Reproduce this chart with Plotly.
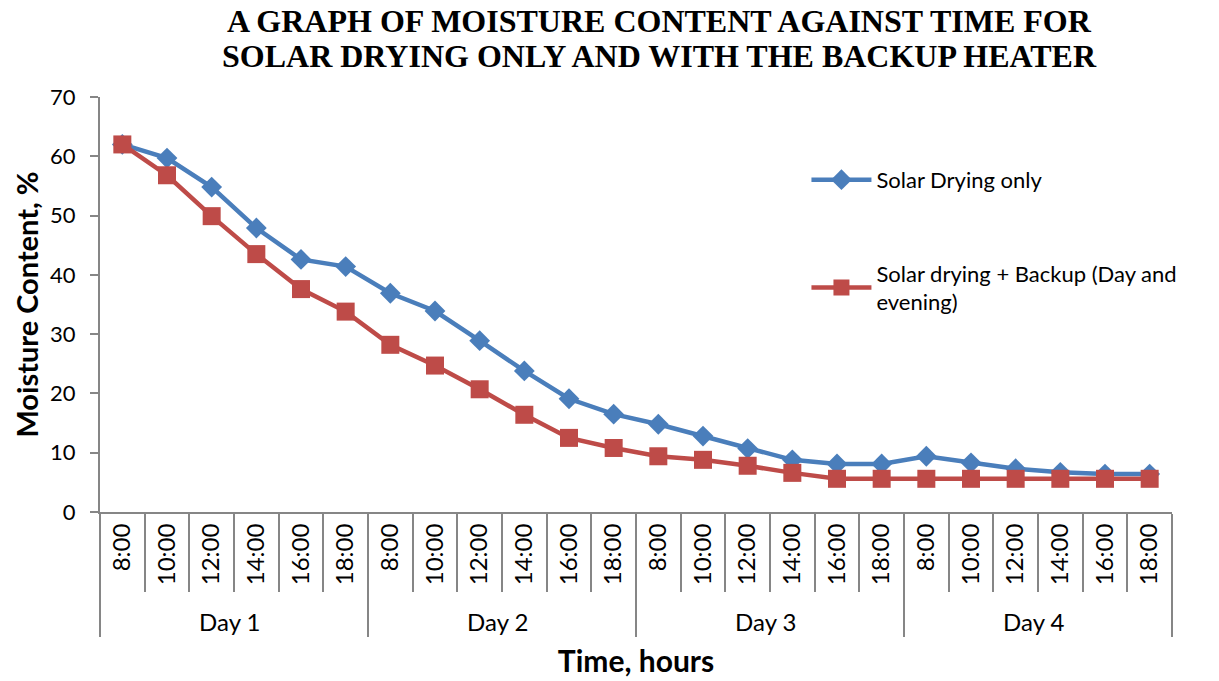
import plotly.graph_objects as go

days = ["Day 1"] * 6 + ["Day 2"] * 6 + ["Day 3"] * 6 + ["Day 4"] * 6
times = ["8:00", "10:00", "12:00", "14:00", "16:00", "18:00"] * 4

solar_only = [62, 59.7, 54.8, 47.9, 42.6, 41.4, 36.9, 33.9, 28.9, 23.8, 19.1, 16.5,
              14.8, 12.8, 10.7, 8.8, 8.1, 8.1, 9.4, 8.3, 7.3, 6.7, 6.4, 6.4]
solar_backup = [62, 56.8, 49.9, 43.5, 37.6, 33.8, 28.2, 24.7, 20.7, 16.4, 12.5, 10.8,
                9.4, 8.8, 7.8, 6.6, 5.6, 5.6, 5.6, 5.6, 5.6, 5.6, 5.6, 5.6]

title_lines = ["A GRAPH OF MOISTURE CONTENT AGAINST TIME FOR",
               "SOLAR DRYING ONLY AND WITH THE BACKUP HEATER"]

font_main = "Lato, Calibri, Carlito, sans-serif"
serif = "Liberation Serif, Times New Roman, serif"

fig = go.Figure()
fig.add_trace(go.Scatter(
    x=[days, times], y=solar_only, mode="lines+markers",
    name="Solar Drying only", legendgroup="a",
    line=dict(color="#4A7EBB", width=4.5),
    marker=dict(symbol="diamond", size=16, color="#4A7EBB"),
))
fig.add_trace(go.Scatter(
    x=[days, times], y=solar_backup, mode="lines+markers",
    name="Solar drying + Backup (Day and<br>evening)", legendgroup="b",
    line=dict(color="#BE4B48", width=4.5),
    marker=dict(symbol="square", size=18, color="#BE4B48"),
))

# plot area: x 100..1172, y 97..512
plot_top = 97
plot_h = 415
for i, t in enumerate(title_lines):
    ypix = 21 + 35 * i
    fig.add_annotation(
        text="<b>" + t + "</b>", xref="paper", yref="paper",
        x=0.522, xanchor="center", y=1 + (plot_top - ypix) / plot_h,
        yanchor="middle", showarrow=False,
        font=dict(family=serif, size=32, color="black"),
    )

fig.update_layout(
    width=1219, height=681,
    paper_bgcolor="white", plot_bgcolor="white",
    margin=dict(l=100, r=47, t=97, b=169, autoexpand=False),
    font=dict(family=font_main, size=22, color="black"),
    legend=dict(
        x=0.659, xanchor="left", y=0.851, yanchor="top",
        font=dict(size=22), tracegroupgap=62, bgcolor="rgba(0,0,0,0)",
        itemwidth=60,
    ),
    showlegend=True,
)

fig.update_yaxes(
    range=[0, 70], dtick=10, showgrid=False, zeroline=False,
    showline=True, linecolor="#868686", linewidth=2,
    ticks="outside", ticklen=8, tickcolor="#868686", tickwidth=2,
    tickfont=dict(size=22), ticklabelstandoff=10,
    title=dict(text="<b>Moisture Content, %</b>", font=dict(size=29), standoff=3),
    automargin=False,
)
fig.update_xaxes(
    type="multicategory", showgrid=False, range=[-0.5, 23.5],
    showline=True, linecolor="#868686", linewidth=2,
    ticks="outside", tickcolor="#868686", ticklen=78, tickwidth=2,
    tickangle=-90, showdividers=True, dividercolor="#868686", dividerwidth=2,
    tickfont=dict(size=24),
    title=dict(text="<b>Time, hours</b>", font=dict(size=30), standoff=16),
    automargin=False,
)

fig.write_html("out.html", config={"displayModeBar": False},
               post_script="document.body.style.margin='0';")
